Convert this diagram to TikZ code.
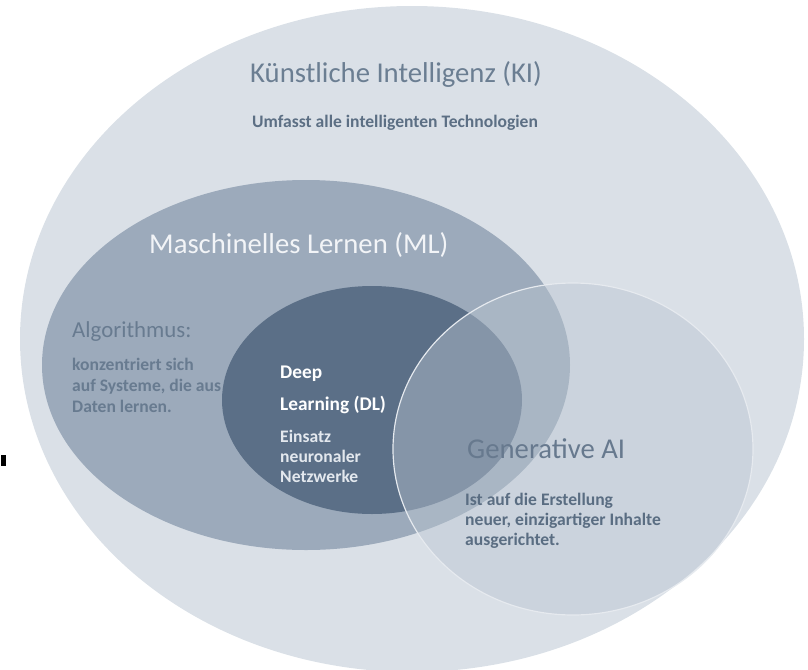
\documentclass[tikz,border=0pt]{standalone}
\usepackage{fontspec}
\setmainfont{Carlito}

\definecolor{kiFill}{HTML}{DAE0E7}
\definecolor{mlFill}{HTML}{9CAABB}
\definecolor{dlFill}{HTML}{5B6F87}
\definecolor{genFill}{HTML}{BAC5D1}
\definecolor{genLine}{HTML}{E6EAEF}
\definecolor{kiText}{HTML}{6B7E92}
\definecolor{kiSub}{HTML}{5C6F84}
\definecolor{mlText}{HTML}{F2F4F7}
\definecolor{algText}{HTML}{687B90}
\definecolor{dlSub}{HTML}{E3E8EE}
\definecolor{genText}{HTML}{67798E}
\definecolor{genSub}{HTML}{5A6D82}

\tikzset{
  head/.style={anchor=base west, inner sep=0pt, font=\fontsize{24.5}{28}\selectfont},
  body/.style={anchor=base west, inner sep=0pt, align=left, font=\bfseries\fontsize{15}{17.9}\selectfont},
}

\begin{document}
\begin{tikzpicture}[x=0.03cm, y=-0.03cm]
  \useasboundingbox (0,0) rectangle (808,670);
  \clip (0,0) rectangle (808,670);

  % 'KI'
  \fill[kiFill] (412,339) ellipse [x radius=392, y radius=333];

  % 'ML'
  \fill[mlFill] (306,365) ellipse [x radius=264, y radius=185];

  % 'DL'
  \fill[dlFill] (372,400) ellipse [x radius=150, y radius=114];

  % 'Generative AI'
  \filldraw[fill=genFill, fill opacity=0.45, draw=genLine, line width=1pt]
    (573,449) ellipse [x radius=180, y radius=166];

  % mark on the left border
  \fill[black] (1,455) rectangle (6,466);

  % 'KI' texts
  \node[head, text=kiText] at (250,82) (ki) {Künstliche Intelligenz (KI)};
  \node[body, text=kiSub] at (252,127) (kisub) {Umfasst alle intelligenten Technologien};

  % 'ML' texts (multi-line nodes sit on their last line)
  \node[head, text=mlText] at (149,253) (ml) {Maschinelles Lernen (ML)};
  \node[anchor=base west, inner sep=0pt, text=algText, font=\fontsize{19.5}{22}\selectfont]
    at (72,337) (alg) {Algorithmus:};
  \node[body, text=algText] at (72,412) (algsub)
    {konzentriert sich\\auf Systeme, die aus\\Daten lernen.};

  % 'DL' texts
  \node[body, text=white, font=\bfseries\fontsize{16.5}{27}\selectfont] at (280,410) (dl)
    {Deep\\Learning (DL)};
  \node[body, text=dlSub, font=\bfseries\fontsize{15}{17}\selectfont] at (280,482) (dlsub)
    {Einsatz\\neuronaler\\Netzwerke};

  % 'Generative AI' texts
  \node[head, text=genText] at (467,458) (gen) {Generative AI};
  \node[body, text=genSub, font=\bfseries\fontsize{15}{17}\selectfont] at (465,545) (gensub)
    {Ist auf die Erstellung\\neuer, einzigartiger Inhalte\\ausgerichtet.};
\end{tikzpicture}
\end{document}
